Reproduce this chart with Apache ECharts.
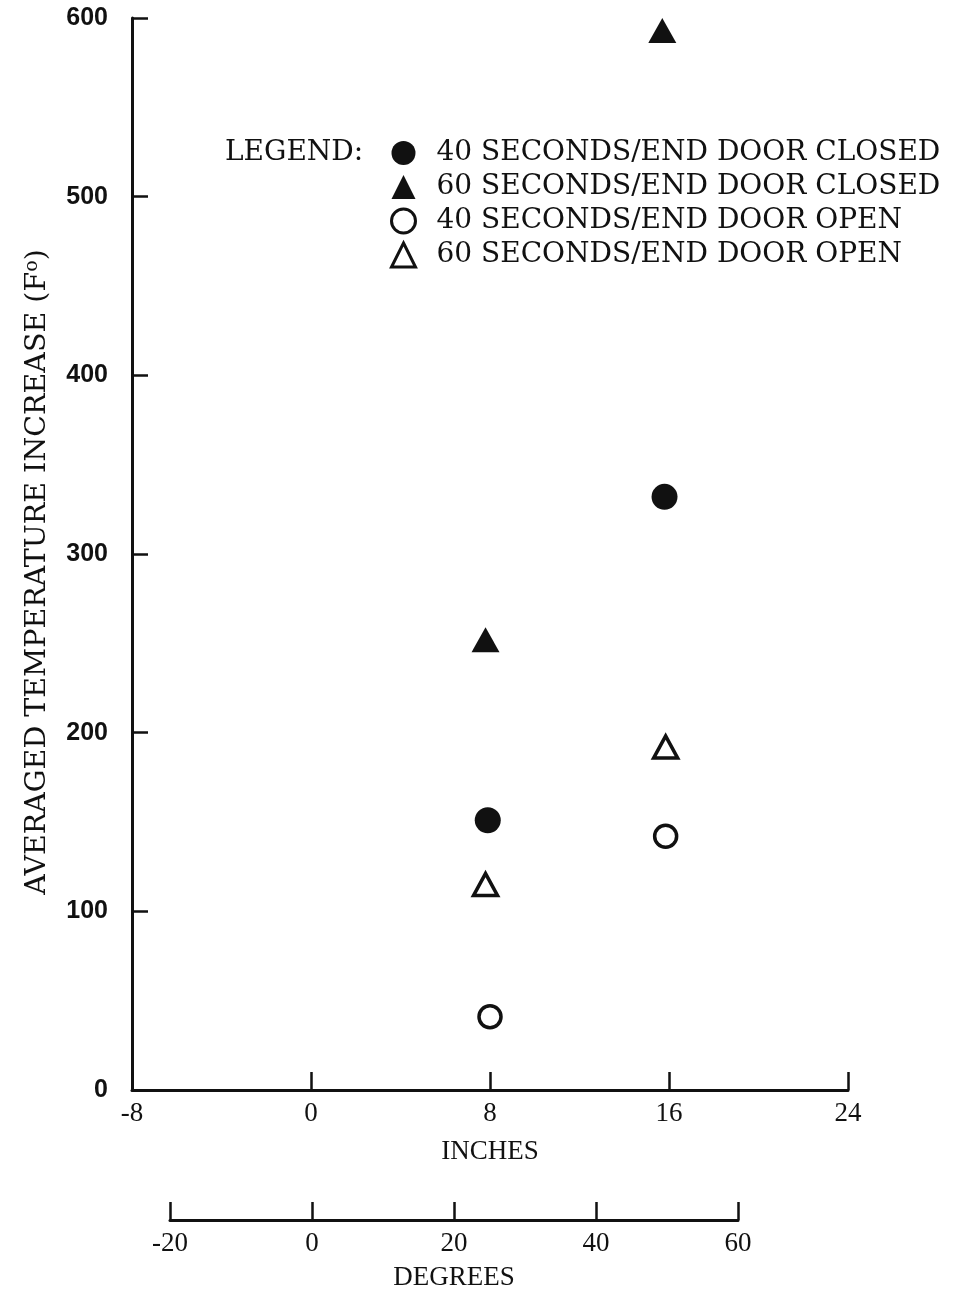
<!DOCTYPE html>
<html>
<head>
<meta charset="utf-8">
<script src="https://cdn.jsdelivr.net/npm/echarts@6/dist/echarts.min.js"></script>
<style>
html,body{margin:0;padding:0;background:#fff;}
#chart{width:955px;height:1292px;}
</style>
</head>
<body>
<div id="chart"></div>
<script>
// ---- data (x in inches, y = averaged temperature increase, F°) ----
const seriesNames = [
  '40 SECONDS/END DOOR CLOSED',
  '60 SECONDS/END DOOR CLOSED',
  '40 SECONDS/END DOOR OPEN',
  '60 SECONDS/END DOOR OPEN'
];
const closed40 = [[7.9, 151], [15.8, 332]];
const closed60 = [[7.8, 252], [15.7, 593]];
const open40   = [[8.0, 41],  [15.85, 142]];
const open60   = [[7.8, 115], [15.85, 192]];
const inchTicks = [-8, 0, 8, 16, 24];
const degreeTicks = [-20, 0, 20, 40, 60];
const tempTicks = [0, 100, 200, 300, 400, 500, 600];

const INK = '#111';
const serif = '"DejaVu Serif", serif';
const lineStyle = {color: INK, width: 3};
const tickStyle = {color: INK, width: 2.5};

const chart = echarts.init(document.getElementById('chart'));
chart.setOption({
  backgroundColor: '#fff',
  animation: false,
  grid: [
    {left: 132, top: 18, width: 716, height: 1072},
    {left: 170, top: 1210, width: 568, height: 12}
  ],
  xAxis: [
    {
      gridIndex: 0, type: 'value',
      min: inchTicks[0], max: inchTicks[inchTicks.length - 1], interval: 8,
      splitLine: {show: false},
      axisLine: {show: true, onZero: false, lineStyle: lineStyle},
      axisTick: {show: true, inside: true, length: 18, lineStyle: tickStyle},
      axisLabel: {color: INK, fontFamily: '"Liberation Serif", serif', fontSize: 27, margin: 10},
      name: 'INCHES', nameLocation: 'middle', nameGap: 48,
      nameTextStyle: {color: INK, fontFamily: '"Liberation Serif", serif', fontSize: 27}
    },
    {
      gridIndex: 1, type: 'value',
      min: degreeTicks[0], max: degreeTicks[degreeTicks.length - 1], interval: 20,
      splitLine: {show: false},
      axisLine: {show: true, onZero: false, lineStyle: lineStyle},
      axisTick: {show: true, inside: true, length: 18, lineStyle: tickStyle},
      axisLabel: {color: INK, fontFamily: '"Liberation Serif", serif', fontSize: 27, margin: 10},
      name: 'DEGREES', nameLocation: 'middle', nameGap: 44,
      nameTextStyle: {color: INK, fontFamily: '"Liberation Serif", serif', fontSize: 27}
    }
  ],
  yAxis: [
    {
      gridIndex: 0, type: 'value',
      min: tempTicks[0], max: tempTicks[tempTicks.length - 1], interval: 100,
      splitLine: {show: false},
      axisLine: {show: true, onZero: false, lineStyle: lineStyle},
      axisTick: {show: true, inside: true, length: 16, lineStyle: tickStyle},
      axisLabel: {color: INK, fontFamily: '"Liberation Sans", sans-serif', fontWeight: 'bold', fontSize: 25, margin: 24}
    },
    {
      gridIndex: 1, type: 'value', show: false, min: 0, max: 1
    }
  ],
  legend: {
    orient: 'vertical',
    left: 385, top: 134,
    itemWidth: 24, itemHeight: 24, itemGap: 6,
    textStyle: {color: INK, fontFamily: serif, fontSize: 28, lineHeight: 24, padding: [0, 0, 0, 16]},
    data: [
      {name: seriesNames[0], itemStyle: {borderWidth: 0}},
      {name: seriesNames[1], itemStyle: {borderWidth: 0}},
      {name: seriesNames[2], itemStyle: {borderWidth: 3, borderColor: INK}},
      {name: seriesNames[3], itemStyle: {borderWidth: 3, borderColor: INK}}
    ]
  },
  graphic: [
    {
      type: 'text', left: 225, top: 139,
      style: {text: 'LEGEND:', fill: INK, font: '28px "DejaVu Serif", serif'}
    },
    {
      type: 'text', x: 38, y: 572, rotation: Math.PI / 2,
      style: {
        text: '{a|AVERAGED TEMPERATURE INCREASE (F}{s|o}{a|)}',
        align: 'center', verticalAlign: 'middle',
        rich: {
          a: {fill: INK, fontFamily: serif, fontSize: 28.5},
          s: {fill: INK, fontFamily: serif, fontSize: 19, verticalAlign: 'top', padding: [0, 0, 12, 0]}
        }
      }
    }
  ],
  series: [
    {
      name: seriesNames[0], type: 'scatter', xAxisIndex: 0, yAxisIndex: 0,
      symbol: 'circle', symbolSize: 26, data: closed40,
      itemStyle: {color: INK, opacity: 1}
    },
    {
      name: seriesNames[1], type: 'scatter', xAxisIndex: 0, yAxisIndex: 0,
      symbol: 'triangle', symbolSize: [28, 25], data: closed60,
      itemStyle: {color: INK, opacity: 1}
    },
    {
      name: seriesNames[2], type: 'scatter', xAxisIndex: 0, yAxisIndex: 0,
      symbol: 'circle', symbolSize: 22, data: open40,
      itemStyle: {color: '#fff', borderColor: INK, borderWidth: 3.5, opacity: 1}
    },
    {
      name: seriesNames[3], type: 'scatter', xAxisIndex: 0, yAxisIndex: 0,
      symbol: 'triangle', symbolSize: [24, 22], data: open60,
      itemStyle: {color: '#fff', borderColor: INK, borderWidth: 3.5, opacity: 1}
    }
  ]
});
</script>
</body>
</html>
